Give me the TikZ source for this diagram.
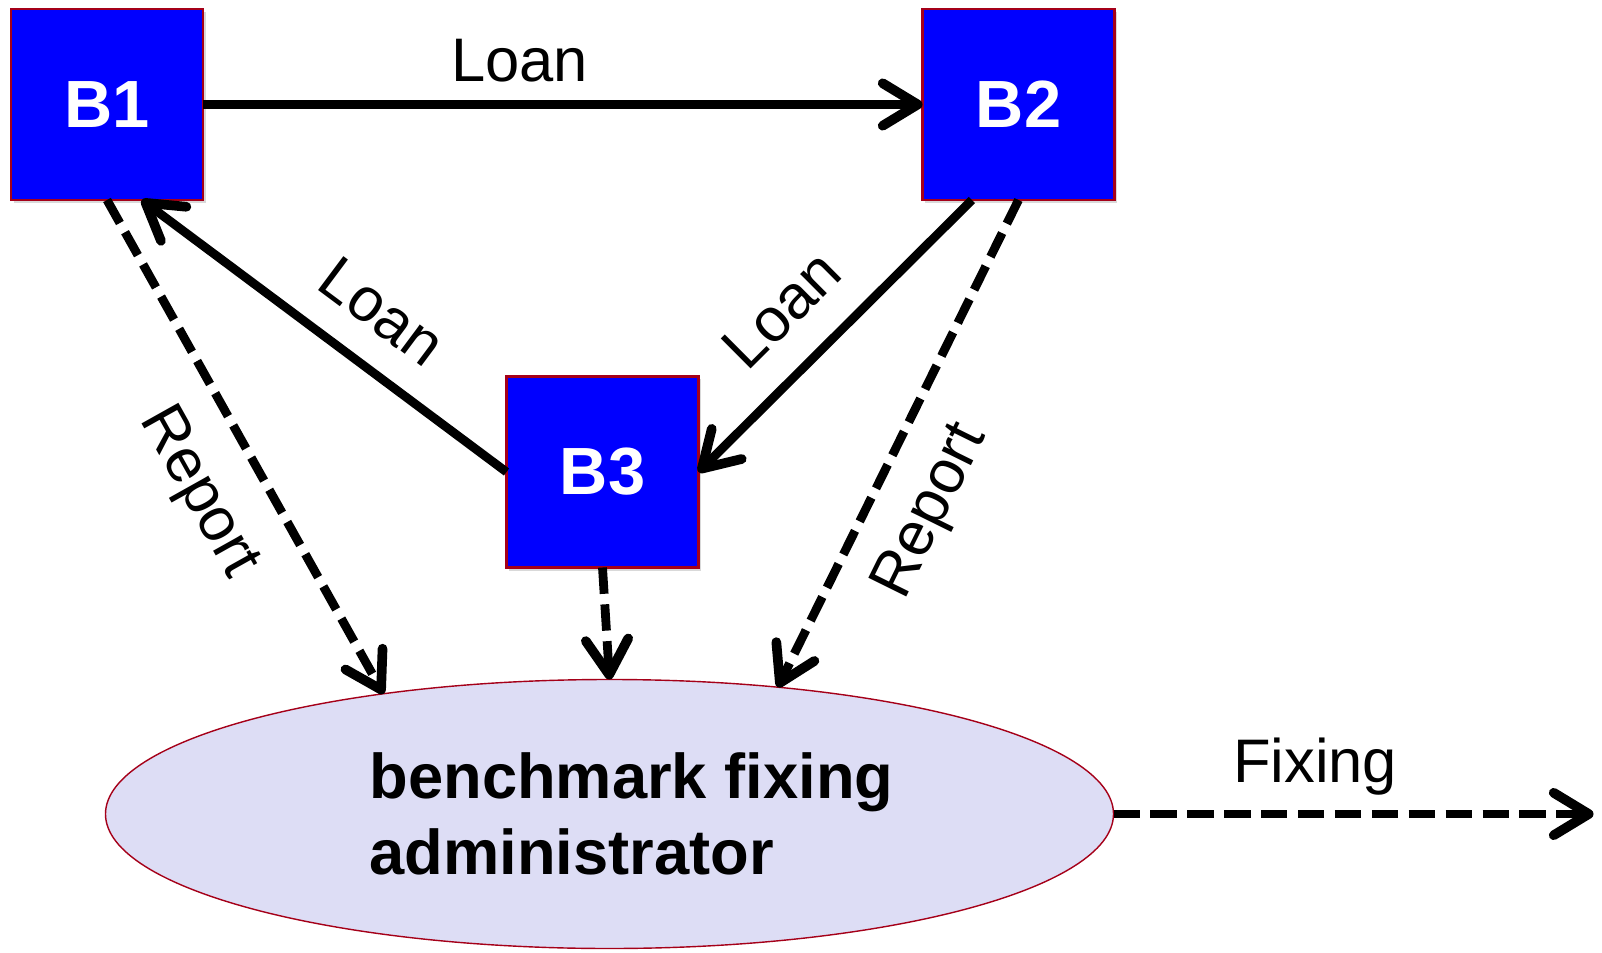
\documentclass[tikz,border=0pt]{standalone}
\usepackage{fontspec}
\setmainfont{Liberation Sans}
\usetikzlibrary{positioning,shapes.geometric,arrows.meta,shadows}
\definecolor{bankblue}{RGB}{0,0,255}
\definecolor{bankred}{RGB}{165,0,25}
\definecolor{admfill}{RGB}{221,221,245}

\begin{document}
\begin{tikzpicture}[
bank/.style={rectangle, draw=bankred, fill=bankblue, line width=1.5pt, minimum width=3.84cm, minimum height=3.82cm, inner sep=0pt, outer sep=0pt, text=white, font=\fontsize{38}{44}\selectfont\bfseries, drop shadow={opacity=0.3, shadow xshift=0.05cm, shadow yshift=-0.06cm}},
admin/.style={ellipse, draw=bankred, fill=admfill, thick, minimum width=20.16cm, minimum height=5.38cm, inner sep=0pt, outer sep=0pt, align=left, font=\fontsize{36}{43.5}\selectfont\bfseries},
loan/.style={line width=5pt, -{Straight Barb[length=0.7cm, width=0.85cm, line width=5.5pt, round]}},
report/.style={loan, dash pattern=on 15pt off 6pt},
lbl/.style={font=\fontsize{35}{42}\selectfont}
]
\useasboundingbox (0,0) rectangle (32.04,19.04);
%Nodes
\node[bank]      (b1)     at (2.14,16.95)                          {B1};
\node[bank]      (b2)     [right=14.39cm of b1]                    {B2};
\node[bank]      (b3)     [below right=3.53cm and 6.07cm of b1]    {B3};
\node[admin]     (adm)    [below=2.24cm of b3, xshift=0.14cm]      {\hspace*{0.88cm}benchmark fixing\\\hspace*{0.88cm}administrator};
\coordinate[right=9.6cm of adm.east] (fixend);
%Lines
\draw[loan] (b1) -- (b2) node[lbl, pos=0.44, above=2.5mm] {Loan};
\draw[loan] (b3.west) -- (b1.-70) node[lbl, pos=0.43, sloped, above=4.5mm] {Loan};
\draw[loan] (b2.-116) -- (b3.east) node[lbl, pos=0.55, sloped, above=5mm] {Loan};
\draw[report] (b1.south) -- (adm.152) node[lbl, pos=0.53, sloped, below=5.2mm] {Report};
\draw[report] (b2.south) -- (adm.37) node[lbl, pos=0.585, sloped, below=4.5mm] {Report};
\draw[report] (b3.south) -- (adm.north);
\draw[report] (adm.east) -- (fixend) node[lbl, pos=0.42, above=1.7mm] {Fixing};
\end{tikzpicture}
\end{document}
